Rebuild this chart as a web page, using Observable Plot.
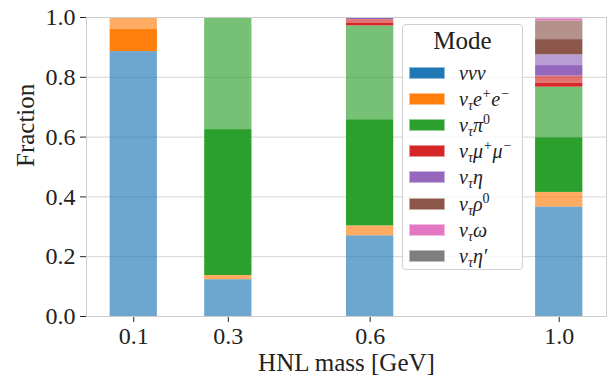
<!DOCTYPE html>
<html>
<head>
<meta charset="utf-8">
<script src="https://cdn.jsdelivr.net/npm/d3@7"></script>
<script src="https://cdn.jsdelivr.net/npm/@observablehq/plot@0.6"></script>
<style>
  html, body { margin: 0; padding: 0; background: #fff; }
  #wrap { position: relative; width: 611px; height: 384px; font-family: "Liberation Serif", "DejaVu Serif", serif; }
  #wrap svg, #wrap svg text, #wrap svg g { font-family: "Liberation Serif", "DejaVu Serif", serif !important; }
  #legend { position: absolute; left: 402px; top: 24px; width: 121px; height: 246px;
    border: 1px solid #d0d0d0; border-radius: 4px; background: rgba(255,255,255,0.8); box-sizing: border-box; }
  #legend .title { position: absolute; left: 0; right: 0; top: 2px; text-align: center; font-size: 25px; color: #222; }
  #legend .row { position: absolute; left: 6px; height: 26px; display: flex; align-items: center; }
  #legend .sw { width: 36px; height: 12px; margin-right: 14px; box-sizing: border-box; border: 1px solid rgba(255,255,255,0.5); }
  #legend .lab { font-size: 20px; font-style: italic; color: #222; white-space: nowrap; line-height: 1; }
  #legend sub { font-size: 70%; line-height: 0; vertical-align: -0.3em; }
  #legend sup { font-size: 70%; line-height: 0; vertical-align: 0.55em; }
  #legend .up { font-style: normal; }
</style>
</head>
<body>
<div id="wrap"></div>
<script>
// ---- data ----
const masses = [0.1, 0.3, 0.6, 1.0];
const xTicks = [0.1, 0.3, 0.6, 1.0];
const yTicks = [0.0, 0.2, 0.4, 0.6, 0.8, 1.0];
const modes = ["nununu", "nutau_ee", "nutau_pi0", "nutau_mumu", "nutau_eta", "nutau_rho0", "nutau_omega", "nutau_etaprime"];
const modeLabels = [
  "ννν",
  "ν<sub>τ</sub>e<sup>+</sup>e<sup>−</sup>",
  "ν<sub>τ</sub>π<sup class='up'>0</sup>",
  "ν<sub>τ</sub>μ<sup>+</sup>μ<sup>−</sup>",
  "ν<sub>τ</sub>η",
  "ν<sub>τ</sub>ρ<sup class='up'>0</sup>",
  "ν<sub>τ</sub>ω",
  "ν<sub>τ</sub>η′"
];
const modeColors = ["#1f77b4", "#ff7f0e", "#2ca02c", "#d62728", "#9467bd", "#8c564b", "#e377c2", "#7f7f7f"];
// fractions per mass (0.1, 0.3, 0.6, 1.0): solid part and faded part of each mode
const solid_nununu   = [0, 0, 0, 0];
const faded_nununu   = [0.886, 0.123, 0.270, 0.366];
const solid_ee       = [0.075, 0, 0, 0];
const faded_ee       = [0.039, 0.014, 0.033, 0.049];
const solid_pi0      = [0, 0.488, 0.355, 0.183];
const faded_pi0      = [0, 0.375, 0.314, 0.169];
const solid_mumu     = [0, 0, 0.008, 0.013];
const faded_mumu     = [0, 0, 0.013, 0.024];
const solid_eta      = [0, 0, 0.004, 0.035];
const faded_eta      = [0, 0, 0.003, 0.036];
const solid_rho0     = [0, 0, 0, 0.051];
const faded_rho0     = [0, 0, 0, 0.063];
const solid_omega    = [0, 0, 0, 0.004];
const faded_omega    = [0, 0, 0, 0.007];
const solid_etaprime = [0, 0, 0, 0];
const faded_etaprime = [0, 0, 0, 0];
const barWidth = 0.1;

const solidByMode = [solid_nununu, solid_ee, solid_pi0, solid_mumu, solid_eta, solid_rho0, solid_omega, solid_etaprime];
const fadedByMode = [faded_nununu, faded_ee, faded_pi0, faded_mumu, faded_eta, faded_rho0, faded_omega, faded_etaprime];

// build stacked table
const rows = [];
masses.forEach((m, j) => {
  let acc = 0;
  modes.forEach((mode, i) => {
    [["solid", solidByMode[i][j]], ["faded", fadedByMode[i][j]]].forEach(([part, v]) => {
      if (v > 0) {
        rows.push({mass: m, mode, part, y1: acc, y2: acc + v, color: modeColors[i]});
        acc += v;
      }
    });
  });
});

const fontFamily = '"Liberation Serif", "DejaVu Serif", serif';

const chart = Plot.plot({
  width: 611,
  height: 384,
  marginLeft: 86,
  marginRight: 5,
  marginTop: 17,
  marginBottom: 68,
  style: {fontFamily, fontSize: "24px", color: "#222", background: "white", overflow: "visible"},
  x: {domain: [0, 1.1], ticks: xTicks, tickFormat: d => d.toFixed(1), tickSize: 6, tickPadding: 4, label: null},
  y: {domain: [0, 1], ticks: yTicks, tickFormat: d => d.toFixed(1), tickSize: 6, tickPadding: 5, label: null},
  marks: [
    Plot.gridY(yTicks, {stroke: "#d5d5d5", strokeOpacity: 1, strokeWidth: 1}),
    Plot.rectY(rows, {
      x1: d => d.mass - barWidth / 2,
      x2: d => d.mass + barWidth / 2,
      y1: "y1",
      y2: "y2",
      fill: "color",
      fillOpacity: d => d.part === "solid" ? 1 : 0.65
    }),
    Plot.frame({stroke: "#cccccc", strokeWidth: 1}),
    Plot.text(["Fraction"], {frameAnchor: "left", dx: -61, rotate: -90, fontSize: 25, fill: "#222"}),
    Plot.text(["HNL mass [GeV]"], {frameAnchor: "bottom", dy: 54, fontSize: 25, fill: "#222"})
  ]
});

const wrap = document.getElementById("wrap");
wrap.appendChild(chart);

// legend
const legend = document.createElement("div");
legend.id = "legend";
legend.innerHTML = `<div class="title">Mode</div>` + modes.map((m, i) =>
  `<div class="row" style="top:${35 + i * 26.1}px"><div class="sw" style="background:${modeColors[i]}"></div><span class="lab">${modeLabels[i]}</span></div>`
).join("");
wrap.appendChild(legend);
</script>
</body>
</html>
